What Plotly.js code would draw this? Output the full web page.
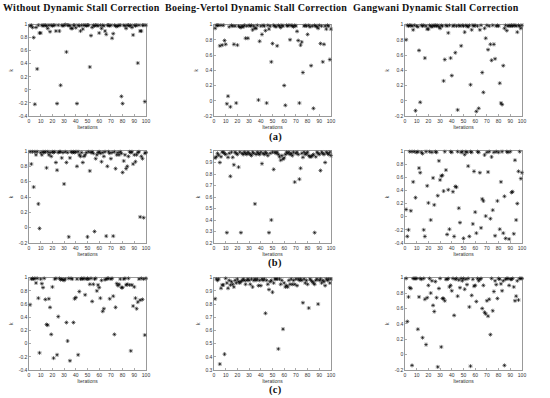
<!DOCTYPE html>
<html>
<head>
<meta charset="utf-8">
<script src="https://cdn.plot.ly/plotly-3.0.1.min.js"></script>
<style>html,body{margin:0;padding:0;background:#fff;}#chart{width:550px;height:398px;} .annotation-text{letter-spacing:0.3px;}</style>
</head>
<body>
<div id="chart"></div>
<script>
// Iteration index (x)
const iterations = [1,2,3,4,5,6,7,8,9,10,11,12,13,14,15,16,17,18,19,20,21,22,23,24,25,26,27,28,29,30,31,32,33,34,35,36,37,38,39,40,41,42,43,44,45,46,47,48,49,50,51,52,53,54,55,56,57,58,59,60,61,62,63,64,65,66,67,68,69,70,71,72,73,74,75,76,77,78,79,80,81,82,83,84,85,86,87,88,89,90,91,92,93,94,95,96,97,98,99,100];

const columnTitles = ["Without Dynamic Stall Correction", "Boeing-Vertol Dynamic Stall Correction", "Gangwani Dynamic Stall Correction"];
const rowLabels = ["(a)", "(b)", "(c)"];

// Row (a)
const kA1 = [0.98,0.99,0.955,0.80,-0.22,0.955,0.32,0.99,0.87,0.87, 0.99,0.98,0.99,0.99,0.98,0.94,0.99,0.89,0.99,0.98, 0.99,0.99,0.90,-0.21,0.99,0.90,0.07,0.99,0.98,0.99, 1.0,0.58,0.99,0.99,0.98,0.94,0.94,0.99,0.99,0.95, -0.21,0.99,0.98,0.90,0.99,0.93,0.99,0.99,0.98,0.99, 0.99,0.35,0.83,0.955,0.99,0.98,0.99,0.99,0.98,0.87, 0.99,0.94,0.99,0.98,0.90,0.85,0.99,0.99,0.98,0.99, 0.79,0.86,0.99,0.98,0.97,0.98,0.99,0.99,-0.10,-0.21, 0.99,0.98,0.94,0.99,0.99,0.98,0.99,0.955,0.84,0.99, 0.98,0.99,0.41,0.99,0.90,0.90,0.99,0.99,-0.18,0.99];
const kA2 = [0.95,0.99,0.99,0.99,0.72,0.99,0.73,0.99,0.79,0.74, -0.04,0.06,0.97,-0.08,0.99,0.98,0.74,0.98,-0.03,0.73, 0.98,0.97,0.96,0.98,0.97,0.99,0.82,0.98,0.82,0.99, 0.98,0.99,0.93,0.98,0.95,0.95,0.99,0.01,0.78,0.98, 0.87,0.99,0.98,0.92,-0.03,0.99,0.94,0.98,0.51,0.75, 0.99,0.98,0.97,0.72,0.99,0.98,0.96,0.99,0.98,0.20, -0.06,0.99,0.98,0.99,0.80,0.99,0.98,0.97,0.99,0.98, 0.91,0.79,-0.03,0.73,0.77,0.37,0.98,0.99,0.98,0.87, 0.99,0.97,0.46,0.98,-0.10,0.99,0.98,0.97,0.95,0.99, 0.75,0.98,0.51,0.74,0.98,0.94,0.99,0.98,0.54,0.94];
const kA3 = [0.80,0.99,0.98,0.99,0.99,0.98,0.93,0.99,-0.13,0.98, 0.97,0.66,-0.02,0.99,0.98,0.99,0.56,0.98,0.94,0.94, 0.99,0.98,0.97,0.99,0.98,0.99,0.98,0.99,0.97,0.95, 0.99,0.98,0.26,0.54,0.99,0.98,0.89,0.99,0.56,0.33, 0.98,0.99,0.63,0.98,-0.12,0.99,0.98,0.72,0.99,0.98, 0.90,0.99,0.98,0.97,0.99,0.21,0.93,0.99,0.98,0.99, -0.14,0.98,-0.10,0.93,0.99,0.37,0.11,0.95,0.82,0.99, 0.67,0.98,0.74,0.53,0.99,0.74,0.55,0.98,0.99,0.98, 0.23,-0.03,-0.05,0.46,0.95,0.99,0.92,0.98,0.99,0.98, 0.99,0.98,0.99,0.99,0.98,0.90,0.99,0.98,0.95,0.99];
// Row (b)
const kB1 = [0.99,0.83,0.99,0.53,0.99,0.95,0.99,0.31,-0.01,0.98, 0.95,0.99,0.98,0.99,0.78,0.99,0.95,0.98,0.93,0.99, 0.98,0.99,0.85,0.75,0.98,0.99,0.99,0.91,0.98,0.57, 0.99,0.85,0.98,-0.12,0.91,0.99,0.98,0.99,0.98,0.99, 0.80,0.99,0.95,0.93,0.98,0.85,0.93,0.95,0.98,-0.12, 0.99,0.74,0.98,0.99,0.97,-0.05,0.90,0.95,0.98,0.99, 0.97,0.86,0.98,0.93,0.99,-0.11,0.80,0.99,0.97,0.90, 0.98,-0.11,0.99,0.77,0.95,0.98,0.95,0.99,0.97,0.72, 0.87,0.95,0.77,0.80,0.93,0.99,0.98,0.99,0.83,0.95, 0.86,0.95,0.98,0.99,0.14,0.93,0.90,0.13,0.97,0.98];
const kB2 = [0.94,0.95,0.98,0.965,0.90,0.95,0.99,0.99,0.98,0.97, 0.29,0.945,0.98,0.78,0.99,0.945,0.88,0.99,0.98,0.97, 0.86,0.99,0.29,0.98,0.97,0.99,0.98,0.97,0.99,0.98, 0.97,0.96,0.99,0.98,0.54,0.97,0.99,0.98,0.97,0.99, 0.89,0.98,0.97,0.99,0.98,0.96,0.29,0.98,0.40,0.99, 0.84,0.99,0.98,0.99,0.97,0.95,0.92,0.96,0.93,0.94, 0.97,0.99,0.98,0.99,0.97,0.98,0.96,0.99,0.73,0.98, 0.99,0.97,0.755,0.85,0.98,0.945,0.99,0.97,0.98,0.99, 0.96,0.95,0.95,0.96,0.97,0.29,0.95,0.99,0.98,0.97, 0.83,0.99,0.98,0.97,0.90,0.99,0.98,0.97,0.99,0.96];
const kB3 = [0.11,-0.30,-0.20,0.99,0.09,0.99,0.53,0.99,0.29,0.98, 0.99,0.74,0.67,0.98,0.96,-0.20,-0.30,0.99,0.47,0.21, 0.99,-0.05,0.98,0.59,0.18,0.99,0.98,0.32,0.85,0.56, 0.62,0.63,0.39,0.99,0.71,-0.27,0.41,-0.19,0.99,0.98, 0.38,-0.30,0.46,0.45,0.99,0.13,-0.09,0.98,0.99,-0.33, 0.945,0.99,0.98,0.77,-0.30,0.99,0.98,-0.11,0.69,0.07, -0.25,0.99,0.98,0.67,-0.17,0.27,0.24,0.94,0.01,0.98, 0.68,0.99,-0.03,0.91,0.10,0.98,-0.29,0.99,0.24,0.98, -0.19,0.53,0.99,-0.25,0.31,-0.33,0.99,0.98,-0.34,0.99, 0.37,0.38,-0.26,0.86,-0.05,0.20,0.69,0.99,0.58,0.67];
// Row (c)
const kC1 = [0.59,0.98,0.99,0.98,0.99,0.92,0.99,0.69,-0.14,0.98, 0.91,0.85,0.99,0.67,0.29,0.28,0.68,0.55,0.14,0.86, -0.22,0.98,0.99,-0.17,0.41,0.99,0.97,0.98,0.97,0.96, 0.98,0.32,0.04,0.99,-0.26,0.99,0.98,0.32,0.68,0.70, 0.98,-0.17,0.79,0.98,0.99,0.98,0.99,0.74,0.98,0.99, 0.98,0.90,0.99,0.64,0.90,0.98,0.99,0.80,0.89,0.85, 0.69,0.96,0.49,0.53,0.97,0.98,0.99,0.99,0.68,0.98, 0.99,0.72,0.14,0.55,0.91,0.88,0.90,0.98,0.85,0.85, 0.98,0.99,0.89,0.90,0.99,0.89,-0.11,0.89,0.57,0.86, 0.69,0.53,0.63,0.98,0.66,0.99,0.67,0.98,0.13,0.99];
const kC2 = [0.84,0.99,0.98,0.99,0.345,0.92,0.945,0.945,0.42,0.995, 0.96,0.92,0.98,0.945,0.97,0.95,0.93,0.98,0.96,0.99, 0.97,0.96,0.97,0.98,0.99,0.98,0.95,0.98,0.99,0.98, 0.95,0.99,0.93,0.98,0.99,0.98,0.99,0.94,0.98,0.94, 0.99,0.98,0.99,0.73,0.98,0.95,0.91,0.97,0.98,0.89, 0.96,0.99,0.99,0.99,0.46,0.99,0.95,0.98,0.61,0.96, 0.93,0.94,0.93,0.98,0.95,0.99,0.95,0.98,0.95,0.99, 0.94,0.99,0.98,0.99,0.98,0.81,0.99,0.96,0.98,0.95, 0.77,0.99,0.98,0.97,0.96,0.95,0.98,0.99,0.80,0.98, 0.99,0.96,0.98,0.97,0.94,0.99,0.98,0.99,0.96,0.99];
const kC3 = [0.99,0.43,0.75,0.87,0.86,-0.14,0.99,0.99,0.99,0.99, 0.33,0.75,0.99,0.98,0.22,0.99,0.72,0.13,0.74,0.90, 0.99,0.80,0.96,0.64,0.56,0.95,0.74,-0.16,0.86,0.99, 0.10,0.73,0.73,0.70,0.98,0.98,0.99,0.88,0.90,0.83, 0.99,0.51,0.98,0.99,0.76,0.97,0.87,0.99,0.96,0.99, 0.85,0.98,0.91,0.99,0.62,-0.15,0.77,0.98,0.89,0.90, 0.69,0.99,0.96,0.98,0.99,0.60,0.90,0.55,0.53,0.70, 0.50,0.72,0.26,0.99,0.57,0.82,0.96,0.91,0.73,0.99, 0.98,0.92,0.83,0.96,-0.14,0.98,0.99,0.99,0.90,0.98, 0.98,0.99,0.88,0.70,0.76,0.96,0.71,0.99,0.99,0.99];

// Tick values / labels
const xTicks = [0,10,20,30,40,50,60,70,80,90,100];
const xTickText = ["0","10","20","30","40","50","60","70","80","90","100"];
const yTicksM04 = [-0.4,-0.2,0,0.2,0.4,0.6,0.8,1];
const yTextM04 = ["-0.4","-0.2","0","0.2","0.4","0.6","0.8","1"];
const yTicksM02 = [-0.2,0,0.2,0.4,0.6,0.8,1];
const yTextM02 = ["-0.2","0","0.2","0.4","0.6","0.8","1"];
const yTicks02 = [0.2,0.3,0.4,0.5,0.6,0.7,0.8,0.9,1];
const yText02 = ["0.2","0.3","0.4","0.5","0.6","0.7","0.8","0.9","1"];
const yTicks03 = [0.3,0.4,0.5,0.6,0.7,0.8,0.9,1];
const yText03 = ["0.3","0.4","0.5","0.6","0.7","0.8","0.9","1"];

const panels = [
  {k:kA1, yr:[-0.4,1], tv:yTicksM04, tt:yTextM04},
  {k:kA2, yr:[-0.2,1], tv:yTicksM02, tt:yTextM02},
  {k:kA3, yr:[-0.2,1], tv:yTicksM02, tt:yTextM02},
  {k:kB1, yr:[-0.2,1], tv:yTicksM02, tt:yTextM02},
  {k:kB2, yr:[0.2,1], tv:yTicks02, tt:yText02},
  {k:kB3, yr:[-0.4,1], tv:yTicksM04, tt:yTextM04},
  {k:kC1, yr:[-0.4,1], tv:yTicksM04, tt:yTextM04},
  {k:kC2, yr:[0.3,1], tv:yTicks03, tt:yText03},
  {k:kC3, yr:[-0.2,1], tv:yTicksM02, tt:yTextM02}
];

const W = 550, H = 398;
const colPx = [[29,146],[214,331],[405,522]];
const rowPx = [[24.5,116],[151,243],[277.7,370]];

const traces = [];
const layout = {
  width: W, height: H,
  margin: {l:0, r:0, t:0, b:0},
  paper_bgcolor: '#fff', plot_bgcolor: '#fff',
  showlegend: false,
  font: {family: 'Liberation Sans, Arial, sans-serif', color: '#333'},
  annotations: []
};

panels.forEach((p, i) => {
  const r = Math.floor(i / 3), c = i % 3;
  const n = i + 1;
  const xa = 'x' + (n === 1 ? '' : n), ya = 'y' + (n === 1 ? '' : n);
  traces.push({
    x: iterations, y: p.k, xaxis: xa, yaxis: ya,
    type: 'scatter', mode: 'markers', cliponaxis: false,
    marker: {symbol: 'asterisk-open', size: 3.4, color: '#000', line: {color: '#111', width: 0.55}},
    hoverinfo: 'skip'
  });
  const axCommon = {
    showline: true, mirror: true, linecolor: '#555', linewidth: 0.6,
    ticks: 'inside', ticklen: 2, tickwidth: 0.5, tickcolor: '#555',
    showgrid: false, zeroline: false, automargin: false,
    tickfont: {size: 5, color: '#333'}
  };
  layout['xaxis' + (n === 1 ? '' : n)] = Object.assign({}, axCommon, {
    domain: [colPx[c][0] / W, colPx[c][1] / W],
    anchor: ya, range: [0, 100],
    tickmode: 'array', tickvals: xTicks, ticktext: xTickText,
    title: {text: 'Iterations', font: {size: 5, color: '#333'}, standoff: 1}
  });
  layout['yaxis' + (n === 1 ? '' : n)] = Object.assign({}, axCommon, {
    domain: [1 - rowPx[r][1] / H, 1 - rowPx[r][0] / H],
    anchor: xa, range: p.yr,
    tickmode: 'array', tickvals: p.tv, ticktext: p.tt,
    title: {text: 'k', font: {size: 5, color: '#333'}, standoff: 4}
  });
});

const titleX = [81, 256, 436];
columnTitles.forEach((t, i) => {
  layout.annotations.push({
    text: '<b>' + t + '</b>', xref: 'paper', yref: 'paper', x: titleX[i] / W, y: 1 - 8 / H,
    xanchor: 'center', yanchor: 'middle', showarrow: false,
    font: {family: 'Liberation Serif, serif', size: 10, color: '#111'}
  });
});
const labelY = [137, 263, 390];
rowLabels.forEach((t, i) => {
  layout.annotations.push({
    text: '<b>' + t + '</b>', xref: 'paper', yref: 'paper', x: 275 / W, y: 1 - labelY[i] / H,
    xanchor: 'center', yanchor: 'middle', showarrow: false,
    font: {family: 'Liberation Serif, serif', size: 10.5, color: '#111'}
  });
});

Plotly.newPlot('chart', traces, layout, {staticPlot: true, displayModeBar: false});
</script>
</body>
</html>
